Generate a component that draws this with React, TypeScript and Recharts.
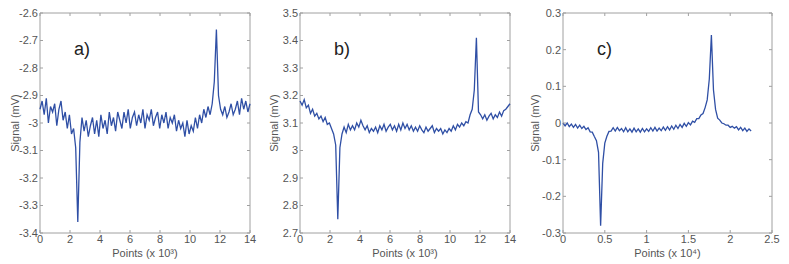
import { LineChart, Line, XAxis, YAxis, ReferenceArea } from 'recharts';

// panel a) – signal in mV, one sample every 0.14 x10^3 points
const A_STEP = 0.14;
const signalA = [
    -2.95, -2.92, -2.97, -2.91, -3.0, -2.94, -2.96, -2.93, -3.01, -2.95,
    -2.92, -2.99, -2.96, -3.02, -2.97, -3.04, -3.02, -3.09, -3.36, -3.07,
    -2.98, -3.03, -2.99, -3.05, -3.01, -2.98, -3.04, -2.99, -3.05, -2.97,
    -3.02, -2.99, -3.04, -2.96, -3.01, -2.98, -3.03, -2.96, -2.99, -3.02,
    -2.96, -3.0, -2.95, -3.02, -2.98, -2.96, -3.01, -2.97, -3.0, -2.95,
    -3.02, -2.97, -2.99, -2.95, -3.01, -2.98, -2.96, -3.02, -2.97, -3.0,
    -2.96, -3.02, -2.98, -3.0, -2.97, -3.03, -2.99, -3.02, -3.0, -3.05,
    -2.99, -3.04, -3.01, -3.03, -2.98, -3.02, -2.97, -3.0, -2.95, -2.98,
    -2.94, -2.97, -2.93, -2.85, -2.66, -2.9, -2.95, -2.97, -2.94, -2.98,
    -2.96, -2.93, -2.97, -2.95, -2.92, -2.97, -2.91, -2.95, -2.92, -2.96,
    -2.93,
];

// panel b)
const B_STEP = 0.14;
const signalB = [
    3.18, 3.165, 3.185, 3.155, 3.165, 3.135, 3.15, 3.125, 3.135, 3.115,
    3.125, 3.105, 3.12, 3.095, 3.1, 3.08, 3.06, 3.02, 2.75, 3.01,
    3.06, 3.085, 3.065, 3.095, 3.075, 3.09, 3.075, 3.1, 3.085, 3.11,
    3.09, 3.075, 3.09, 3.065, 3.08, 3.07, 3.085, 3.065, 3.09, 3.075,
    3.095, 3.07, 3.085, 3.095, 3.075, 3.09, 3.07, 3.095, 3.075, 3.1,
    3.08, 3.095, 3.075, 3.09, 3.07, 3.085, 3.07, 3.09, 3.075, 3.065,
    3.085, 3.07, 3.08, 3.09, 3.065, 3.08, 3.07, 3.08, 3.06, 3.075,
    3.065, 3.08, 3.07, 3.09, 3.075, 3.095, 3.085, 3.1, 3.09, 3.105,
    3.1, 3.13, 3.15, 3.22, 3.41, 3.14, 3.13, 3.115, 3.13, 3.11,
    3.125, 3.135, 3.115, 3.13, 3.12, 3.14, 3.125, 3.145, 3.15, 3.16,
    3.17,
];

// panel c) – one sample every 0.025 x10^4 points
const C_STEP = 0.025;
const signalC = [
    0.0, -0.008, 0.0, -0.01, -0.003, -0.012, -0.004, -0.014, -0.006, -0.015,
    -0.009, -0.018, -0.013, -0.024, -0.025, -0.037, -0.048, -0.08, -0.28, -0.11,
    -0.055, -0.036, -0.023, -0.022, -0.013, -0.022, -0.012, -0.021, -0.015, -0.024,
    -0.013, -0.024, -0.016, -0.025, -0.014, -0.024, -0.016, -0.025, -0.015, -0.024,
    -0.016, -0.023, -0.013, -0.022, -0.012, -0.022, -0.014, -0.021, -0.011, -0.02,
    -0.01, -0.019, -0.008, -0.017, -0.006, -0.015, -0.004, -0.012, -0.001, -0.009,
    0.001, -0.005, 0.005, 0.002, 0.012, 0.012, 0.022, 0.026, 0.042, 0.063,
    0.12, 0.24, 0.09, 0.037, 0.013, 0.008, 0.0, -0.002, -0.006, -0.006,
    -0.012, -0.009, -0.014, -0.01, -0.019, -0.012, -0.021, -0.014, -0.023, -0.016,
    -0.022,
];

const ticksX14 = [0, 2, 4, 6, 8, 10, 12, 14];
const ticksX25 = [0, 0.5, 1, 1.5, 2, 2.5];
const ticksYA = [-3.4, -3.3, -3.2, -3.1, -3, -2.9, -2.8, -2.7, -2.6];
const ticksYB = [2.7, 2.8, 2.9, 3, 3.1, 3.2, 3.3, 3.4, 3.5];
const ticksYC = [-0.3, -0.2, -0.1, 0, 0.1, 0.2, 0.3];

const LINE = '#2f4fa5';
const FRAME = '#a0a0a0';
const TXT = '#555';
const FONT = '"Liberation Sans", Arial, sans-serif';
const PLOT_H = 220;

const toRows = (vals: number[], step: number) =>
    vals.map((v, i) => ({ x: +(i * step).toFixed(3), y: v }));

function XTick(props: any) {
    const { x, y, payload } = props;
    const bottom = y - 2;
    const top = bottom - PLOT_H;
    return (
        <g>
            <line x1={x} y1={bottom} x2={x} y2={bottom - 3} stroke={FRAME} />
            <line x1={x} y1={top} x2={x} y2={top + 3} stroke={FRAME} />
            <text x={x} y={y} dy="0.71em" textAnchor="middle" fill={TXT} fontSize={11}>
                {payload.value}
            </text>
        </g>
    );
}

function YTick(props: any) {
    const { x, y, payload, plotW } = props;
    const left = x + 2;
    const right = left + plotW;
    return (
        <g>
            <line x1={left} y1={y} x2={left + 3} y2={y} stroke={FRAME} />
            <line x1={right} y1={y} x2={right - 3} y2={y} stroke={FRAME} />
            <text x={x} y={y} dy="0.355em" textAnchor="end" fill={TXT} fontSize={11}>
                {payload.value}
            </text>
        </g>
    );
}

interface PanelProps {
    left: number;
    width: number;
    marginLeft: number;
    plotW: number;
    data: { x: number; y: number }[];
    xDomain: [number, number];
    xTicks: number[];
    yDomain: [number, number];
    yTicks: number[];
    xTitle: string;
    tag: string;
    titleOffset: number;
}

function Panel({ left, width, marginLeft, plotW, data, xDomain, xTicks, yDomain, yTicks, xTitle, tag, titleOffset }: PanelProps) {
    const marginRight = width - marginLeft - 30 - plotW;
    return (
        <div style={{ position: 'absolute', left, top: 0 }}>
            <LineChart
                width={width}
                height={264}
                data={data}
                margin={{ top: 13, right: marginRight, bottom: 0, left: marginLeft }}
                style={{ fontFamily: FONT }}
            >
                <XAxis
                    dataKey="x"
                    type="number"
                    domain={xDomain}
                    ticks={xTicks}
                    interval={0}
                    height={31}
                    tickSize={0}
                    tickMargin={2}
                    axisLine={false}
                    tick={(p: any) => <XTick {...p} />}
                    label={{ value: xTitle, position: 'insideBottom', offset: 7, fill: TXT, fontSize: 11 }}
                />
                <YAxis
                    type="number"
                    domain={yDomain}
                    ticks={yTicks}
                    interval={0}
                    width={30}
                    tickSize={0}
                    tickMargin={2}
                    axisLine={false}
                    tick={(p: any) => <YTick {...p} plotW={plotW} />}
                    label={{
                        value: 'Signal (mV)',
                        angle: -90,
                        position: 'insideLeft',
                        offset: titleOffset,
                        fill: TXT,
                        fontSize: 11,
                        style: { textAnchor: 'middle' },
                    }}
                />
                <ReferenceArea
                    x1={xDomain[0]}
                    x2={xDomain[1]}
                    y1={yDomain[0]}
                    y2={yDomain[1]}
                    fill="none"
                    stroke={FRAME}
                    strokeWidth={1}
                    ifOverflow="visible"
                    label={{ value: tag, position: 'insideTopLeft', offset: 29, dx: 5, fontSize: 18, fill: '#222' }}
                />
                <Line
                    type="linear"
                    dataKey="y"
                    stroke={LINE}
                    strokeWidth={1.3}
                    dot={false}
                    isAnimationActive={false}
                />
            </LineChart>
        </div>
    );
}

export default function App() {
    return (
        <div style={{ position: 'absolute', left: 0, top: 0, width: 789, height: 264, background: '#fff' }}>
            <Panel
                left={0}
                width={260}
                marginLeft={10}
                plotW={210}
                data={toRows(signalA, A_STEP)}
                xDomain={[0, 14]}
                xTicks={ticksX14}
                yDomain={[-3.4, -2.6]}
                yTicks={ticksYA}
                xTitle="Points (x 10³)"
                tag="a)"
                titleOffset={5}
            />
            <Panel
                left={260}
                width={260}
                marginLeft={10}
                plotW={210}
                data={toRows(signalB, B_STEP)}
                xDomain={[0, 14]}
                xTicks={ticksX14}
                yDomain={[2.7, 3.5]}
                yTicks={ticksYB}
                xTitle="Points (x 10³)"
                tag="b)"
                titleOffset={4}
            />
            <Panel
                left={520}
                width={269}
                marginLeft={13}
                plotW={209}
                data={toRows(signalC, C_STEP)}
                xDomain={[0, 2.5]}
                xTicks={ticksX25}
                yDomain={[-0.3, 0.3]}
                yTicks={ticksYC}
                xTitle="Points (x 10⁴)"
                tag="c)"
                titleOffset={2}
            />
        </div>
    );
}
